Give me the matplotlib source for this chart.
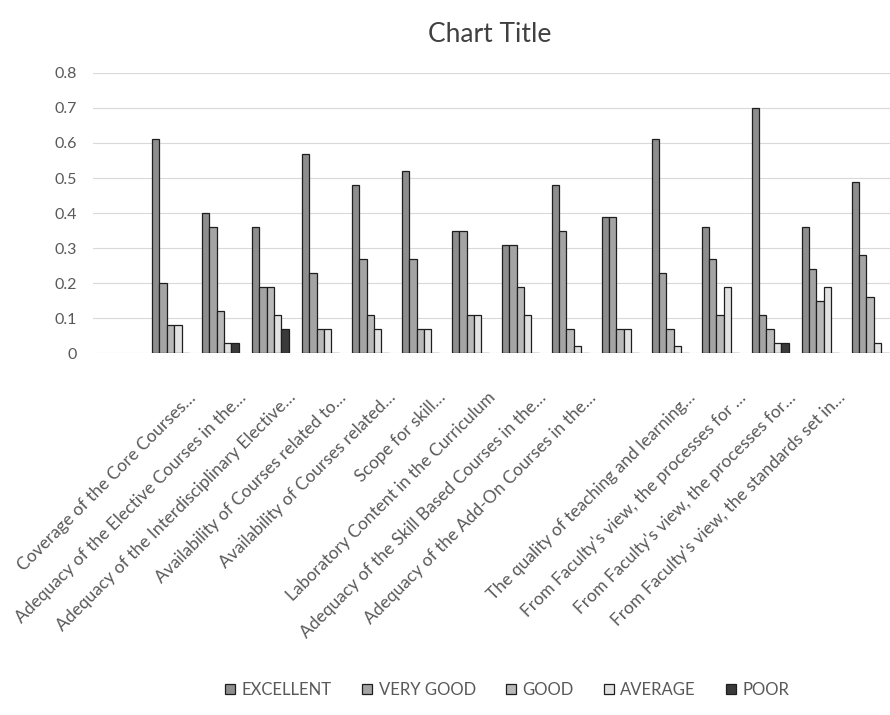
import matplotlib.pyplot as plt
import numpy as np

categories = [
    "Coverage of the Core Courses…",
    "Adequacy of the Elective Courses in the…",
    "Adequacy of the Interdisciplinary Elective…",
    "Availability of Courses related to…",
    "Availability of Courses related…",
    "Scope for skill…",
    "Laboratory Content in the Curriculum",
    "Adequacy of the Skill Based Courses in the…",
    "Adequacy of the Add-On Courses in the…",
    "",
    "The quality of teaching and learning…",
    "From Faculty's view, the processes for …",
    "From Faculty's view, the processes for…",
    "From Faculty's view, the standards set in…",
    "",
]
series_names = ["EXCELLENT", "VERY GOOD", "GOOD", "AVERAGE", "POOR"]
excellent = [0.61, 0.40, 0.36, 0.57, 0.48, 0.52, 0.35, 0.31, 0.48, 0.39, 0.61, 0.36, 0.70, 0.36, 0.49]
very_good = [0.20, 0.36, 0.19, 0.23, 0.27, 0.27, 0.35, 0.31, 0.35, 0.39, 0.23, 0.27, 0.11, 0.24, 0.28]
good = [0.08, 0.12, 0.19, 0.07, 0.11, 0.07, 0.11, 0.19, 0.07, 0.07, 0.07, 0.11, 0.07, 0.15, 0.16]
average = [0.08, 0.03, 0.11, 0.07, 0.07, 0.07, 0.11, 0.11, 0.02, 0.07, 0.02, 0.19, 0.03, 0.19, 0.03]
poor = [0.0, 0.03, 0.07, 0.0, 0.0, 0.0, 0.0, 0.0, 0.0, 0.0, 0.0, 0.0, 0.03, 0.0, 0.0]
y_ticks = [0, 0.1, 0.2, 0.3, 0.4, 0.5, 0.6, 0.7, 0.8]

COLORS = ["#8e8e8e", "#a4a4a4", "#b9b9b9", "#e2e2e2", "#3a3a3a"]
TEXT = "#595959"

plt.rcParams["font.family"] = ["Lato", "DejaVu Sans"]

fig = plt.figure(figsize=(8.9, 7.15), dpi=100)
ax = fig.add_axes([0.105, 0.506, 0.895, 0.392])

x = np.arange(len(categories))
w = 0.148
for i, (name, vals) in enumerate(zip(series_names, [excellent, very_good, good, average, poor])):
    ax.bar(x + (i - 2) * w, vals, width=w, color=COLORS[i], edgecolor="#1e1e1e",
           linewidth=0.9, label=name, zorder=3)

ax.set_ylim(0, 0.8)
ax.set_xlim(-1.54, 14.4)
ax.set_yticks(y_ticks)
ax.set_yticklabels(["0"] + [f"{t:.1f}" for t in y_ticks[1:]])
ax.grid(axis="y", color="#d9d9d9", linewidth=0.8, zorder=0)
for s in ax.spines.values():
    s.set_visible(False)
ax.tick_params(axis="y", length=0, pad=12, labelsize=11.5, labelcolor=TEXT)

ax.set_xticks(x + 0.35)
ax.set_xticklabels(categories, rotation=45, ha="right", rotation_mode="anchor",
                   fontsize=12.5, color=TEXT)
ax.tick_params(axis="x", length=0, pad=26)

fig.text(0.55, 0.952, "Chart Title", ha="center", va="center", fontsize=19, color="#404040")

fig.legend(loc="center", bbox_to_anchor=(0.57, 0.035), ncol=5, frameon=False,
           fontsize=12, handlelength=0.6, handleheight=0.6, columnspacing=1.8,
           handletextpad=0.4, labelcolor=TEXT)

fig.savefig("out.png", dpi=100)
